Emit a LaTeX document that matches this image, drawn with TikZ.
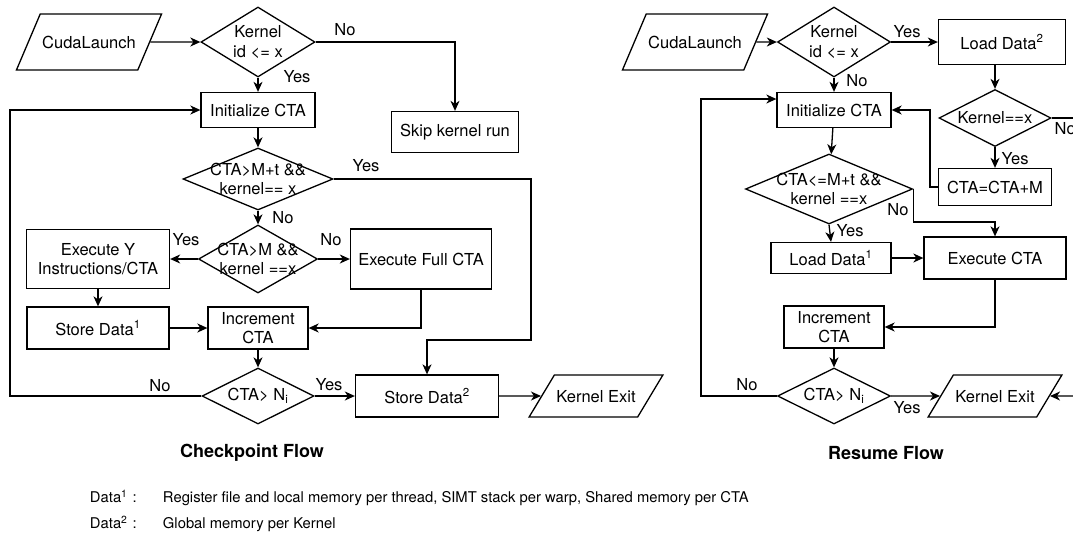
\documentclass[tikz,border=0pt]{standalone}
\usepackage{fontspec}
\setmainfont{TeX Gyre Heros}
\usetikzlibrary{arrows.meta,shapes.geometric,positioning}

\newcommand{\flowfont}{\fontsize{16.5}{19.5}\selectfont}
\newcommand{\captfont}{\fontsize{18}{22}\selectfont\bfseries}
\newcommand{\legfont}{\fontsize{14.8}{18}\selectfont}

\begin{document}
\begin{tikzpicture}[x=1pt,y=-1pt,line width=1.3pt,font=\flowfont,
	>={Stealth[length=10pt,width=9pt,inset=3pt]},
	proc/.style={draw,rectangle,align=center,inner sep=2pt},
	decis/.style={draw,diamond,inner sep=0pt},
	ioa/.style={draw,trapezium,trapezium left angle=67,trapezium right angle=113,trapezium stretches body,
		text height=12pt,text depth=0pt,inner xsep=2pt,inner ysep=22pt},
	iob/.style={draw,trapezium,trapezium left angle=59,trapezium right angle=121,trapezium stretches body,
		text height=12pt,text depth=0pt,inner xsep=2pt,inner ysep=15pt},
	ann/.style={inner sep=1pt}]
		\useasboundingbox (0,0) rectangle (1073,539);
		\clip (0,0) rectangle (1073,539);

		\node[ioa,minimum width=124] (cla) at (89,42) {CudaLaunch};
		\node[decis,minimum width=114,minimum height=70,label={[align=center]center:Kernel\\id <= x}] (kida) at (258,42) {};
		\node[proc,minimum width=127,minimum height=41] (skip) at (455,132) {Skip kernel run};
		\node[proc,minimum width=114,minimum height=35] (inita) at (258,110) {Initialize CTA};
		\node[decis,minimum width=150,minimum height=62,label={[align=center]center:CTA>M+t \&\&\\kernel== x}] (ckpa) at (258,179) {};
		\node[decis,minimum width=119,minimum height=68,label={[align=center]center:CTA>M \&\&\\kernel ==x}] (ckpb) at (258,259) {};
		\node[proc,minimum width=143,minimum height=59] (execy) at (98,259) {Execute Y\\Instructions/CTA};
		\node[proc,minimum width=141,minimum height=60] (execf) at (421,259) {Execute Full CTA};
		\node[proc,minimum width=142,minimum height=42] (stda) at (98,328) {Store Data\textsuperscript{1}};
		\node[proc,minimum width=100,minimum height=42] (incra) at (258,328) {Increment\\CTA};
		\node[decis,minimum width=112,minimum height=56,label={center:CTA> N\textsubscript{i}}] (ntha) at (258,396) {};
		\node[proc,minimum width=143,minimum height=42] (stdb) at (427,396) {Store Data\textsuperscript{2}};
		\node[iob,minimum width=127] (exita) at (596,396) {Kernel Exit};

		\node[ioa,minimum width=122] (clb) at (695,42) {CudaLaunch};
		\node[decis,minimum width=113,minimum height=70,label={[align=center]center:Kernel\\id <= x}] (kidb) at (834,42) {};
		\node[proc,minimum width=127,minimum height=45] (ldb) at (1002,42) {Load Data\textsuperscript{2}};
		\node[decis,minimum width=112,minimum height=57,label={center:Kernel==x}] (keqb) at (995,118) {};
		\node[proc,minimum width=113,minimum height=37] (ctam) at (995,187) {CTA=CTA+M};
		\node[proc,minimum width=114,minimum height=35] (initb) at (834,110) {Initialize CTA};
		\node[decis,minimum width=167,minimum height=70,label={[align=center]center:CTA<=M+t \&\&\\kernel ==x}] (ckpc) at (829,189) {};
		\node[proc,minimum width=120,minimum height=31] (ldc) at (831,258) {Load Data\textsuperscript{1}};
		\node[proc,minimum width=142,minimum height=42] (exec) at (995,258) {Execute CTA};
		\node[proc,minimum width=100,minimum height=42] (incrb) at (834,327) {Increment\\CTA};
		\node[decis,minimum width=113,minimum height=56,label={center:CTA> N\textsubscript{i}}] (nthb) at (834,396) {};
		\node[iob,minimum width=127] (exitb) at (995,396) {Kernel Exit};

		\coordinate (lpa) at (10,396);
		\coordinate (ypa) at (531,340);
		\coordinate (lpb) at (701,396);
		\coordinate (lpt) at (701,99);
		\coordinate (lpc) at (930,187);
		\coordinate (nob) at (0,222);
		\coordinate (edgea) at (1090,118);
		\coordinate (edgeb) at (1090,396);

		\draw[->] (cla.east) -- (kida.west);
		\draw[->] (kida.east) -| (skip.north);
		\draw[->] (kida.south) -- (inita.north);
		\draw[->] (inita) -- (ckpa);
		\draw[->] (ckpa.east) -| (ypa) -| (stdb.north);
		\draw[->] (ckpa) -- (ckpb);
		\draw[->] (ckpb.west) -- (execy.east);
		\draw[->] (ckpb.east) -- (execf.west);
		\draw[->] (execy) -- (stda);
		\draw[->] (stda) -- (incra);
		\draw[->] (execf.south) |- (incra.east);
		\draw[->] (incra) -- (ntha);
		\draw[->] (ntha.west) -- (lpa) |- (inita.west);
		\draw[->] (ntha.east) -- (stdb.west);
		\draw[->] (stdb.east) -- (exita.west);

		\draw[->] (clb.east) -- (kidb.west);
		\draw[->] (kidb.east) -- (ldb.west);
		\draw[->] (ldb.south -| keqb.north) -- (keqb.north);
		\draw[->] (keqb.south) -- (ctam.north);
		\draw[->] (ctam.west) -- (lpc) |- (initb.east);
		\draw[->] (kidb.south) -- (initb.north);
		\draw[->] (nthb.west) -- (lpb) -- (lpt) -- (lpt -| initb.west);
		\draw[->] (initb) -- (ckpc);
		\draw[->] (ckpc.east) -- (ckpc.east |- nob) -| (exec.north);
		\draw[->] (ckpc.south) -- (ldc.north);
		\draw[->] (ldc.east) -- (exec.west);
		\draw[->] (exec.south) |- (incrb.east);
		\draw[->] (incrb) -- (nthb);
		\draw[->] (nthb.east) -- (exitb.west);
		\draw (keqb.east) -- (edgea);
		\draw[->] (edgeb) -- (exitb.east);

		\node[ann] (noa) at (345,30) {No};
		\node[ann] (yesa) at (297,77) {Yes};
		\node[ann] (yesb) at (366,166) {Yes};
		\node[ann] (nob2) at (283,218) {No};
		\node[ann] (yesc) at (186,240) {Yes};
		\node[ann] (noc) at (331,240) {No};
		\node[ann] (nod) at (160,386) {No};
		\node[ann] (yesd) at (329,385) {Yes};

		\node[ann] (yese) at (907,32) {Yes};
		\node[ann] (noe) at (857,81) {No};
		\node[ann,anchor=west] (nof) at (1053,129) {No};
		\node[ann] (yesf) at (1015,159) {Yes};
		\node[ann] (nog) at (898,210) {No};
		\node[ann] (yesg) at (850,231) {Yes};
		\node[ann] (noh) at (747,385) {No};
		\node[ann] (yesh) at (907,408) {Yes};

		\node[font=\captfont] (capa) at (252,453) {Checkpoint Flow};
		\node[font=\captfont] (capb) at (886,453) {Resume Flow};

		\node[font=\legfont,anchor=west] (lega) at (86,498) {\makebox[73pt][l]{Data\textsuperscript{1}\hspace{5pt}:}Register file and local memory per thread, SIMT stack per warp, Shared memory per CTA};
		\node[font=\legfont,anchor=west] (legb) at (86,524) {\makebox[73pt][l]{Data\textsuperscript{2}\hspace{5pt}:}Global memory per Kernel};
\end{tikzpicture}
\end{document}
